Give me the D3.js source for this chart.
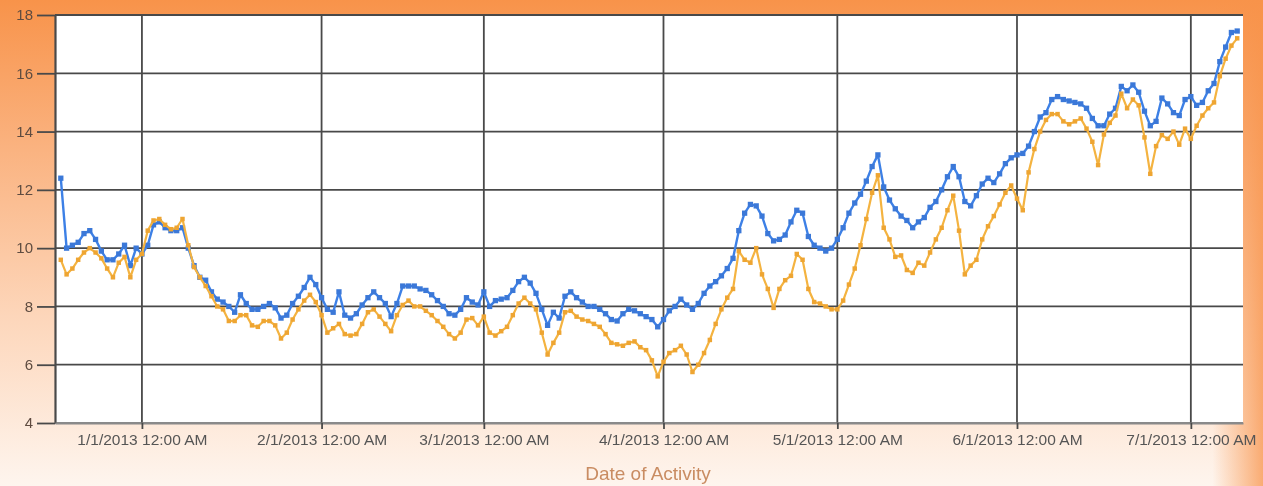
<!DOCTYPE html>
<html>
<head>
<meta charset="utf-8">
<script src="https://cdn.jsdelivr.net/npm/d3@7"></script>
<style>
  html, body { margin: 0; padding: 0; background: #fff; }
  svg { display: block; }
</style>
</head>
<body>
<svg id="chart" width="1263" height="486"></svg>
<script>
// daily values, first point on 12/18/2012
const startDate = new Date(2012, 11, 18);

const valuesBlue = [
  12.4, 10.0, 10.1, 10.2, 10.5, 10.6, 10.3, 9.9, 9.6, 9.6, 9.8, 10.1, 9.4, 10.0,
  9.8, 10.1, 10.8, 10.9, 10.7, 10.6, 10.6, 10.7, 10.0, 9.4, 9.0, 8.9, 8.5, 8.25, 8.15, 8.0,
  7.8, 8.4, 8.1, 7.9, 7.9, 8.0, 8.1, 7.95, 7.6, 7.7, 8.1, 8.35, 8.65, 9.0, 8.75,
  8.3, 7.9, 7.8, 8.5, 7.7, 7.6, 7.75, 8.05, 8.3, 8.5, 8.3, 8.1, 7.65, 8.1, 8.7, 8.7,
  8.7, 8.6, 8.55, 8.4, 8.2, 8.0, 7.75, 7.7, 7.9, 8.3, 8.15, 8.05,
  8.5, 8.0, 8.2, 8.25, 8.3, 8.55, 8.85, 9.0, 8.8, 8.45, 7.9, 7.35, 7.8, 7.6, 8.35, 8.5,
  8.3, 8.15, 8.0, 8.0, 7.9, 7.75, 7.55, 7.5, 7.75, 7.9, 7.85, 7.75, 7.65, 7.55, 7.3,
  7.55, 7.85, 8.0, 8.25, 8.05, 7.9, 8.1, 8.45, 8.7, 8.85, 9.05, 9.3, 9.65, 10.6, 11.2,
  11.5, 11.45, 11.1, 10.5, 10.25, 10.3, 10.45, 10.9, 11.3, 11.2, 10.4, 10.1, 10.0, 9.9, 10.0,
  10.3, 10.7, 11.2, 11.55, 11.85, 12.3, 12.8, 13.2, 12.1, 11.65, 11.35, 11.1, 10.95, 10.7, 10.9,
  11.05, 11.4, 11.6, 12.0, 12.45, 12.8, 12.45, 11.6, 11.45, 11.8, 12.2, 12.4, 12.25, 12.55, 12.9, 13.1,
  13.2, 13.25, 13.5, 14.0, 14.5, 14.65, 15.1, 15.2, 15.1, 15.05, 15.0, 14.95, 14.8, 14.45, 14.2,
  14.2, 14.6, 14.8, 15.55, 15.4, 15.6, 15.35, 14.7, 14.2, 14.35, 15.15, 14.95, 14.65, 14.55, 15.1,
  15.2, 14.9, 15.0, 15.4, 15.65, 16.4, 16.9, 17.4, 17.45
];

const valuesOrange = [
  9.6, 9.1, 9.3, 9.6, 9.85, 10.0, 9.85, 9.65, 9.3, 9.0, 9.5, 9.7, 9.0, 9.6,
  9.8, 10.6, 10.95, 11.0, 10.8, 10.65, 10.7, 11.0, 10.1, 9.35, 9.0, 8.7, 8.35, 8.0, 7.9, 7.5,
  7.5, 7.7, 7.7, 7.35, 7.3, 7.5, 7.5, 7.35, 6.9, 7.1, 7.55, 7.9, 8.2, 8.4, 8.15,
  7.7, 7.1, 7.25, 7.4, 7.05, 7.0, 7.05, 7.4, 7.8, 7.9, 7.65, 7.4, 7.15, 7.7, 8.05, 8.2,
  8.0, 8.0, 7.85, 7.7, 7.5, 7.3, 7.05, 6.9, 7.1, 7.55, 7.6, 7.35,
  7.65, 7.1, 7.0, 7.15, 7.3, 7.7, 8.1, 8.3, 8.1, 7.9, 7.1, 6.35, 6.75, 7.1, 7.8, 7.85,
  7.65, 7.55, 7.5, 7.4, 7.3, 7.05, 6.75, 6.7, 6.65, 6.75, 6.8, 6.6, 6.5, 6.15, 5.6,
  6.1, 6.4, 6.5, 6.65, 6.35, 5.75, 6.0, 6.4, 6.85, 7.4, 7.9, 8.3, 8.6, 9.9, 9.6,
  9.5, 10.0, 9.1, 8.6, 7.95, 8.6, 8.9, 9.05, 9.8, 9.6, 8.6, 8.15, 8.1, 8.0, 7.9,
  7.9, 8.2, 8.75, 9.3, 10.1, 11.0, 11.9, 12.5, 10.7, 10.3, 9.7, 9.75, 9.25, 9.15, 9.5,
  9.4, 9.85, 10.3, 10.7, 11.3, 11.8, 10.6, 9.1, 9.4, 9.6, 10.3, 10.75, 11.1, 11.5, 11.9, 12.15,
  11.7, 11.3, 12.6, 13.4, 14.0, 14.4, 14.6, 14.6, 14.35, 14.25, 14.35, 14.45, 14.1, 13.65, 12.85,
  13.9, 14.3, 14.55, 15.3, 14.8, 15.1, 14.9, 13.8, 12.55, 13.5, 13.88, 13.75, 14.0, 13.55, 14.1,
  13.75, 14.2, 14.55, 14.8, 15.0, 15.9, 16.5, 16.95, 17.2
];

const xDomain = [new Date(2012, 11, 17), new Date(2013, 6, 10)];
const yDomain = [4, 18];
const yTicks = [4, 6, 8, 10, 12, 14, 16, 18];
const xTickDates = [
  new Date(2013, 0, 1), new Date(2013, 1, 1), new Date(2013, 2, 1),
  new Date(2013, 3, 1), new Date(2013, 4, 1), new Date(2013, 5, 1), new Date(2013, 6, 1)
];
const xTickLabels = [
  "1/1/2013 12:00 AM", "2/1/2013 12:00 AM", "3/1/2013 12:00 AM",
  "4/1/2013 12:00 AM", "5/1/2013 12:00 AM", "6/1/2013 12:00 AM", "7/1/2013 12:00 AM"
];
const xTitle = "Date of Activity";

const width = 1263, height = 486;
const margin = { top: 15, right: 20, bottom: 63, left: 55 };

const svg = d3.select("#chart");
const defs = svg.append("defs");

// the source picture is soft, so blur everything a little
defs.append("filter").attr("id", "soft")
  .attr("x", "-2%").attr("y", "-2%").attr("width", "104%").attr("height", "104%")
  .append("feGaussianBlur").attr("stdDeviation", 0.6);

// background: orange fading down to pale peach
const bgV = defs.append("linearGradient").attr("id", "bgV")
  .attr("x1", 0).attr("y1", 0).attr("x2", 0).attr("y2", 1);
bgV.append("stop").attr("offset", "0%").attr("stop-color", "#f8934a");
bgV.append("stop").attr("offset", "30%").attr("stop-color", "#fab27f");
bgV.append("stop").attr("offset", "65%").attr("stop-color", "#fdd6ba");
bgV.append("stop").attr("offset", "100%").attr("stop-color", "#fef5ee");

const bgH = defs.append("linearGradient").attr("id", "bgH")
  .attr("x1", 0).attr("y1", 0).attr("x2", 1).attr("y2", 0);
bgH.append("stop").attr("offset", "0%").attr("stop-color", "#f8934a").attr("stop-opacity", 0);
bgH.append("stop").attr("offset", "96%").attr("stop-color", "#f8934a").attr("stop-opacity", 0);
bgH.append("stop").attr("offset", "100%").attr("stop-color", "#f8934a").attr("stop-opacity", 0.75);

svg.append("rect").attr("width", width).attr("height", height).attr("fill", "url(#bgV)");
svg.append("rect").attr("width", width).attr("height", height).attr("fill", "url(#bgH)");

const root = svg.append("g").attr("filter", "url(#soft)");

const x = d3.scaleTime().domain(xDomain).range([margin.left, width - margin.right]);
const y = d3.scaleLinear().domain(yDomain).range([height - margin.bottom, margin.top]);

// plot area
root.append("rect")
  .attr("x", margin.left).attr("y", margin.top)
  .attr("width", width - margin.left - margin.right)
  .attr("height", height - margin.top - margin.bottom)
  .attr("fill", "#ffffff");

// horizontal grid
root.append("g")
  .selectAll("line").data(yTicks).join("line")
  .attr("x1", margin.left).attr("x2", width - margin.right)
  .attr("y1", d => y(d)).attr("y2", d => y(d))
  .attr("stroke", d => d === yDomain[0] ? "#8a8a8a" : "#4a4a4a")
  .attr("stroke-width", 1.8);

// vertical grid
root.append("g")
  .selectAll("line").data(xTickDates).join("line")
  .attr("x1", d => x(d)).attr("x2", d => x(d))
  .attr("y1", margin.top).attr("y2", height - margin.bottom)
  .attr("stroke", "#4a4a4a").attr("stroke-width", 1.8);

// y axis
const yAxis = root.append("g")
  .attr("transform", `translate(${margin.left},0)`)
  .call(d3.axisLeft(y).tickValues(yTicks).tickSize(18).tickSizeOuter(0).tickPadding(4)
    .tickFormat(d3.format("d")));
yAxis.select(".domain").attr("stroke", "#4a4a4a").attr("stroke-width", 2.2);
yAxis.selectAll(".tick line").attr("stroke", "#4a4a4a").attr("stroke-width", 1.8);
yAxis.selectAll("text")
  .attr("font-family", "Liberation Sans, Arial, sans-serif")
  .attr("font-size", 15).attr("fill", "#5e4c40");

// x axis
const xAxis = root.append("g")
  .attr("transform", `translate(0,${height - margin.bottom})`)
  .call(d3.axisBottom(x).tickValues(xTickDates).tickSize(6).tickSizeOuter(0).tickPadding(5)
    .tickFormat((d, i) => xTickLabels[i]));
xAxis.select(".domain").attr("stroke", "#8a8a8a").attr("stroke-width", 2.2);
xAxis.selectAll(".tick line").attr("stroke", "#4a4a4a").attr("stroke-width", 1.8);
xAxis.selectAll("text")
  .attr("font-family", "Liberation Sans, Arial, sans-serif")
  .attr("font-size", 15.5).attr("fill", "#555555");

root.append("text")
  .attr("x", 648)
  .attr("y", 480)
  .attr("text-anchor", "middle")
  .attr("font-family", "Liberation Sans, Arial, sans-serif")
  .attr("font-size", 19)
  .attr("fill", "#c98c62")
  .text(xTitle);

// series
const toPoints = vals => vals.map((v, i) => ({ date: d3.timeDay.offset(startDate, i), value: v }));
const series = [
  { name: "blue", points: toPoints(valuesBlue), color: "#3d80e6", marker: "#3a78d8", size: 28, width: 2.4 },
  { name: "orange", points: toPoints(valuesOrange), color: "#f4b340", marker: "#eea532", size: 20, width: 2.2 }
];

const line = d3.line().x(d => x(d.date)).y(d => y(d.value));

series.forEach(s => {
  const g = root.append("g").attr("class", "series-" + s.name);
  g.append("path")
    .attr("d", line(s.points))
    .attr("fill", "none")
    .attr("stroke", s.color)
    .attr("stroke-width", s.width)
    .attr("stroke-linejoin", "round");
  g.selectAll("path.marker").data(s.points).join("path")
    .attr("class", "marker")
    .attr("transform", d => `translate(${x(d.date)},${y(d.value)})`)
    .attr("d", d3.symbol().type(d3.symbolSquare).size(s.size))
    .attr("fill", s.marker);
});
</script>
</body>
</html>
